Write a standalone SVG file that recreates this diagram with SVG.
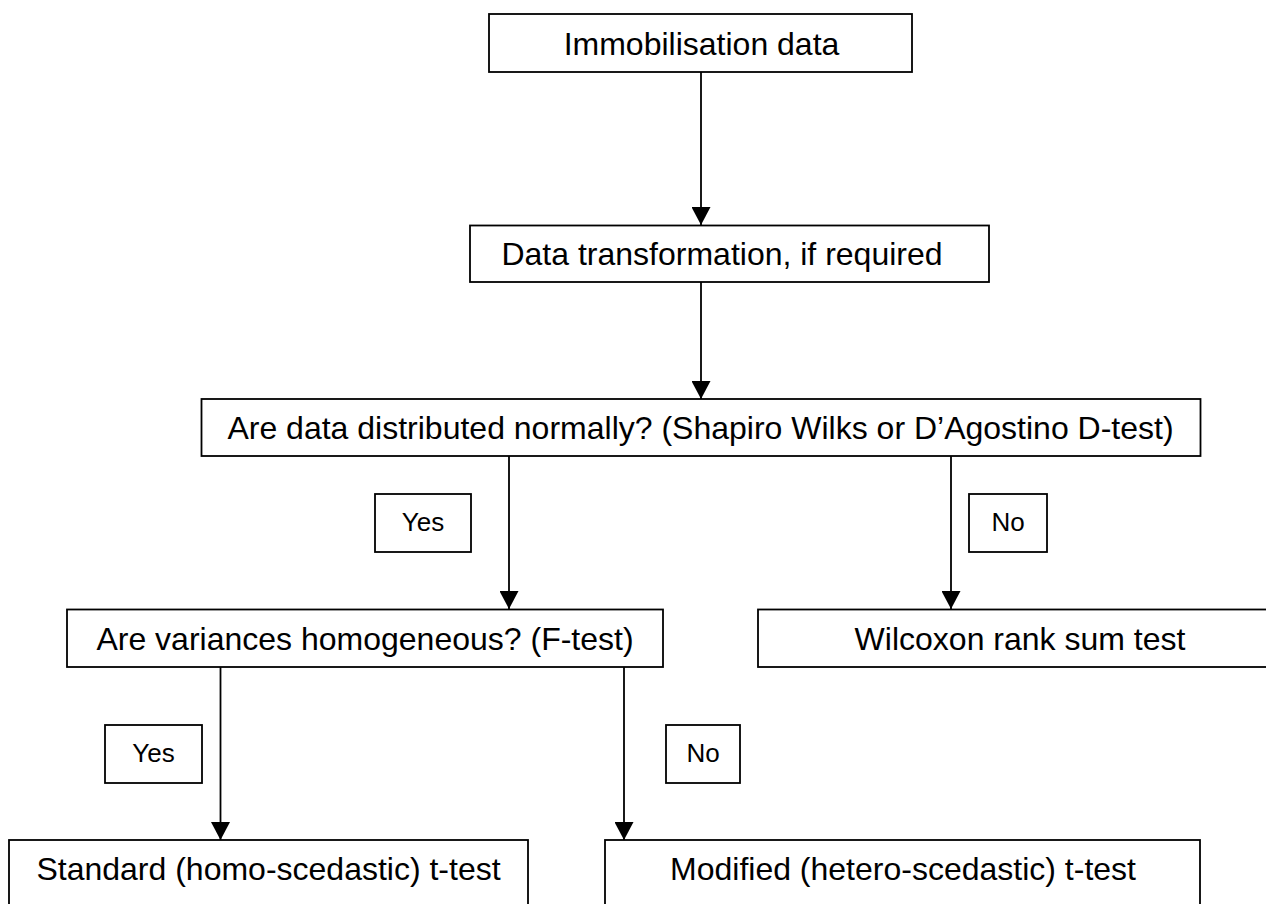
<svg xmlns="http://www.w3.org/2000/svg" width="1266" height="904" viewBox="0 0 1266 904">
<style>
.box{fill:#fff;stroke:#000;stroke-width:1.8}
.t{font-family:"Liberation Sans",Arial,sans-serif;font-size:32px;fill:#000;text-anchor:middle}
.l{font-family:"Liberation Sans",Arial,sans-serif;font-size:26px;fill:#000;text-anchor:middle}
.c{stroke:#000;stroke-width:1.8;fill:none;marker-end:url(#ah)}
</style>
<defs>
<marker id="ah" viewBox="0 0 18 19" refX="18" refY="9.5" markerWidth="18" markerHeight="19" markerUnits="userSpaceOnUse" orient="auto">
<path d="M0,0 L18,9.5 L0,19 z" fill="#000"/>
</marker>
</defs>
<rect width="1266" height="904" fill="#fff"/>
<g id="connectors">
<line class="c" x1="701" y1="72" x2="701" y2="225"/>
<line class="c" x1="701" y1="282" x2="701" y2="399"/>
<line class="c" x1="509" y1="456" x2="509" y2="609"/>
<line class="c" x1="951" y1="456" x2="951" y2="609"/>
<line class="c" x1="220.5" y1="667" x2="220.5" y2="840"/>
<line class="c" x1="624" y1="667" x2="624" y2="840"/>
</g>
<g id="n1"><rect class="box" x="489" y="14" width="423" height="58"/><text class="t" x="701.5" y="55">Immobilisation data</text></g>
<g id="n2"><rect class="box" x="470" y="225.5" width="519" height="56.5"/><text class="t" x="722" y="265">Data transformation, if required</text></g>
<g id="n3"><rect class="box" x="201.5" y="399" width="999" height="57"/><text class="t" x="700.5" y="439">Are data distributed normally? (Shapiro Wilks or D’Agostino D-test)</text></g>
<g id="lyes1"><rect class="box" x="375" y="494" width="96" height="58"/><text class="l" x="423" y="531">Yes</text></g>
<g id="lno1"><rect class="box" x="969" y="494" width="78" height="58"/><text class="l" x="1008" y="531">No</text></g>
<g id="n4"><rect class="box" x="67" y="609.5" width="596" height="57.5"/><text class="t" x="365" y="650">Are variances homogeneous? (F-test)</text></g>
<g id="n5"><rect class="box" x="758" y="609.5" width="524" height="57.5"/><text class="t" x="1020" y="650">Wilcoxon rank sum test</text></g>
<g id="lyes2"><rect class="box" x="105" y="725" width="97" height="58"/><text class="l" x="153.5" y="762">Yes</text></g>
<g id="lno2"><rect class="box" x="666" y="725" width="74" height="58"/><text class="l" x="703" y="762">No</text></g>
<g id="n6"><rect class="box" x="9" y="840" width="519" height="80"/><text class="t" x="268.5" y="880">Standard (homo-scedastic) t-test</text></g>
<g id="n7"><rect class="box" x="605" y="840" width="595" height="80"/><text class="t" x="903" y="880">Modified (hetero-scedastic) t-test</text></g>
</svg>
